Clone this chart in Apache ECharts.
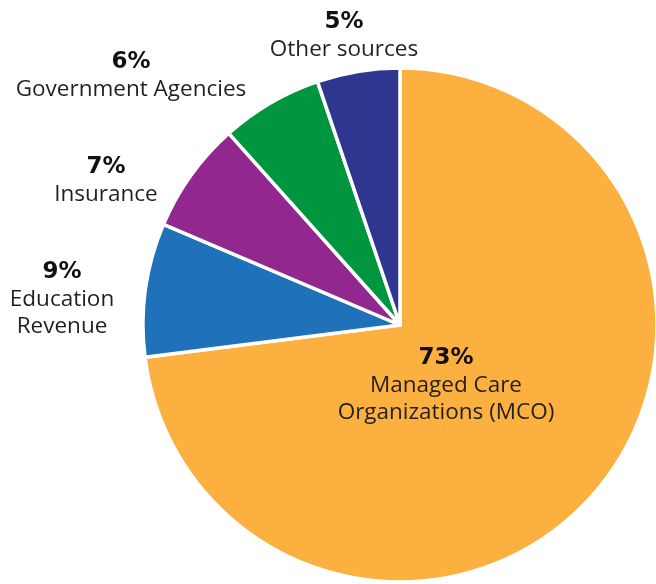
<!DOCTYPE html>
<html>
<head>
<meta charset="utf-8">
<script src="https://cdn.jsdelivr.net/npm/echarts@6/dist/echarts.min.js"></script>
<style>
  html, body { margin: 0; padding: 0; background: #fff; }
  #chart { width: 656px; height: 584px; }
</style>
</head>
<body>
<div id="chart"></div>
<script>
// revenue sources, clockwise from 12 o'clock
const categories = ['Managed Care\nOrganizations (MCO)', 'Education\nRevenue', 'Insurance', 'Government Agencies', 'Other sources']
// slice sizes as drawn (measured off the wedges)
const shares = [73, 8.4, 7, 6.4, 5.2]
// percentages as printed on the chart
const pctLabels = ['73%', '9%', '7%', '6%', '5%']

const colors = ['#FBB040', '#1F72BA', '#92278F', '#00953F', '#2E3690']
// label block centres (px)
const labelPos = [[446, 385], [62, 299], [106, 181], [131, 76], [344, 36]]

const chart = echarts.init(document.getElementById('chart'))

chart.setOption({
  animation: false,
  series: [{
    type: 'pie',
    center: [400, 325],
    radius: 257,
    startAngle: 90,
    clockwise: true,
    data: categories.map((name, i) => ({
      name: name,
      value: shares[i],
      itemStyle: { color: colors[i] },
      // the big slice carries its label inside
      label: i === 0 ? { position: 'inside' } : undefined,
    })),
    itemStyle: {
      borderColor: '#fff',
      borderWidth: 3.5,
    },
    label: {
      show: true,
      position: 'outside',
      overflow: 'none',
      formatter: (p) => '{p|' + pctLabels[p.dataIndex] + '}\n{n|' + p.name + '}',
      rich: {
        p: {
          fontFamily: 'DejaVu Sans',
          fontWeight: 'bold',
          fontSize: 23,
          lineHeight: 28,
          color: '#111',
          align: 'center',
        },
        n: {
          fontFamily: 'Open Sans',
          fontSize: 22.5,
          lineHeight: 27,
          color: '#231f20',
          align: 'center',
        },
      },
    },
    labelLine: { show: false },
    labelLayout: (params) => ({
      x: labelPos[params.dataIndex][0],
      y: labelPos[params.dataIndex][1],
      align: 'center',
      verticalAlign: 'middle',
    }),
  }],
})
</script>
</body>
</html>
